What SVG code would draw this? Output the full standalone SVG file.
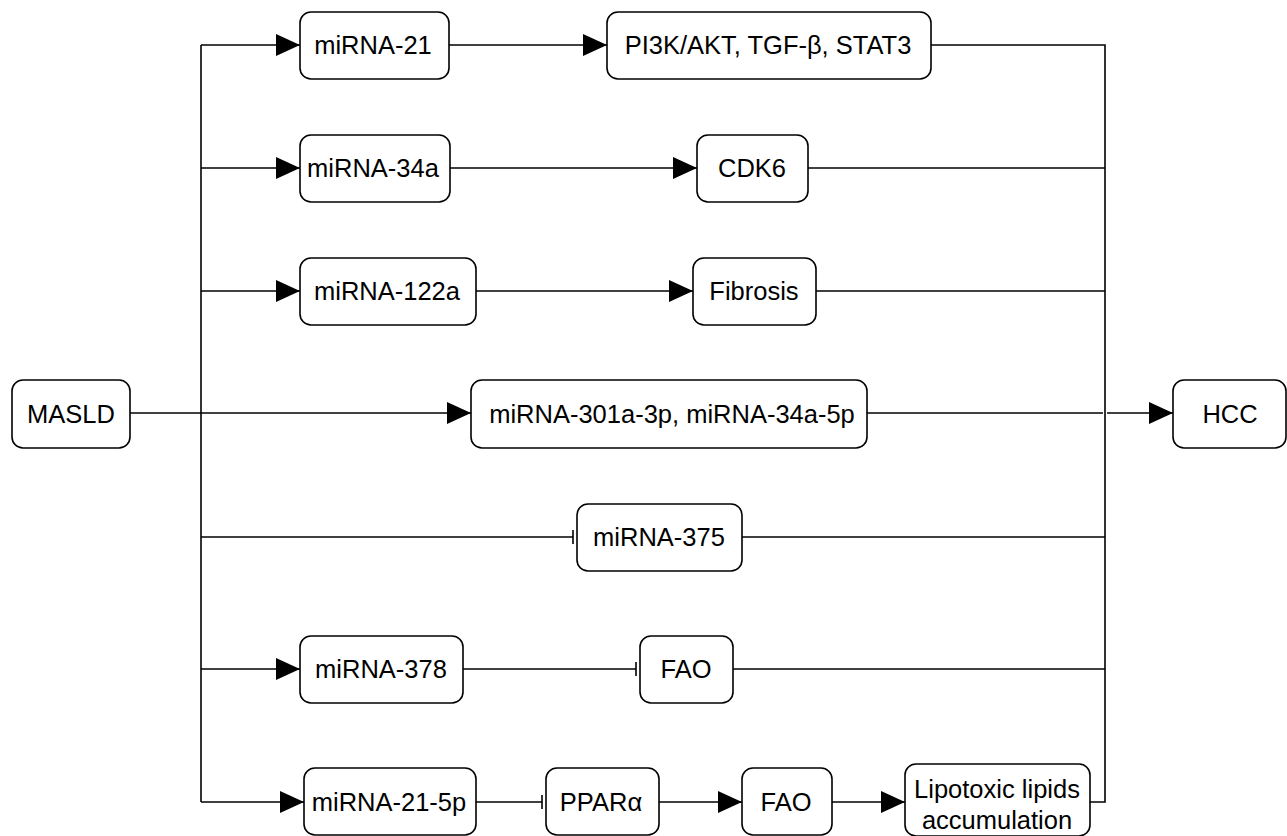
<svg xmlns="http://www.w3.org/2000/svg" width="1287" height="836" viewBox="0 0 1287 836">
<style>
.box{fill:#fff;stroke:#000;stroke-width:1.6}
.t{font-family:"Liberation Sans",Arial,sans-serif;font-size:25.5px;fill:#000;text-anchor:middle;dominant-baseline:central}
.c{fill:none;stroke:#000;stroke-width:1.6}
</style>
<defs>
<marker id="arr" markerUnits="userSpaceOnUse" markerWidth="26" markerHeight="22" refX="24" refY="11" orient="auto"><path d="M0,0 L24,11 L0,22 Z" fill="#000"/></marker>
<marker id="tee" markerUnits="userSpaceOnUse" markerWidth="4" markerHeight="16" refX="2" refY="8" orient="auto"><path d="M2,1 L2,15" stroke="#000" stroke-width="1.6"/></marker>
</defs>
<g id="connectors">
<path class="c" d="M130,413 H471" marker-end="url(#arr)"/>
<path class="c" d="M201,45 V802"/>
<path class="c" d="M201,45 H300" marker-end="url(#arr)"/>
<path class="c" d="M201,168 H300" marker-end="url(#arr)"/>
<path class="c" d="M201,291 H300" marker-end="url(#arr)"/>
<path class="c" d="M201,537 H573" marker-end="url(#tee)"/>
<path class="c" d="M201,669 H300" marker-end="url(#arr)"/>
<path class="c" d="M201,802 H304" marker-end="url(#arr)"/>
<path class="c" d="M449,45 H607" marker-end="url(#arr)"/>
<path class="c" d="M450,168 H697" marker-end="url(#arr)"/>
<path class="c" d="M476,291 H693" marker-end="url(#arr)"/>
<path class="c" d="M463,669 H636" marker-end="url(#tee)"/>
<path class="c" d="M476,802 H542" marker-end="url(#tee)"/>
<path class="c" d="M659,802 H742" marker-end="url(#arr)"/>
<path class="c" d="M832,802 H905" marker-end="url(#arr)"/>
<path class="c" d="M931,45 H1105 V802 H1090"/>
<path class="c" d="M808,168 H1105"/>
<path class="c" d="M816,291 H1105"/>
<path class="c" d="M867,413 H1103"/>
<path class="c" d="M1107,413 H1173" marker-end="url(#arr)"/>
<path class="c" d="M742,537 H1105"/>
<path class="c" d="M733,669 H1105"/>
</g>
<g id="n-masld"><rect class="box" x="12" y="380" width="118" height="68" rx="11"/><text class="t" x="71" y="414">MASLD</text></g>
<g id="n-hcc"><rect class="box" x="1173" y="380" width="113" height="68" rx="11"/><text class="t" x="1230" y="414">HCC</text></g>
<g id="n-mir21"><rect class="box" x="300" y="12" width="149" height="67" rx="11"/><text class="t" x="373" y="45">miRNA-21</text></g>
<g id="n-pi3k"><rect class="box" x="607" y="12" width="324" height="67" rx="11"/><text class="t" x="768" y="45">PI3K/AKT, TGF-β, STAT3</text></g>
<g id="n-mir34a"><rect class="box" x="300" y="135" width="150" height="67" rx="11"/><text class="t" x="373" y="168">miRNA-34a</text></g>
<g id="n-cdk6"><rect class="box" x="697" y="135" width="111" height="67" rx="11"/><text class="t" x="752" y="168">CDK6</text></g>
<g id="n-mir122a"><rect class="box" x="300" y="258" width="176" height="67" rx="11"/><text class="t" x="387" y="291">miRNA-122a</text></g>
<g id="n-fibrosis"><rect class="box" x="693" y="258" width="123" height="67" rx="11"/><text class="t" x="754" y="291">Fibrosis</text></g>
<g id="n-mir301"><rect class="box" x="471" y="380" width="396" height="68" rx="11"/><text class="t" x="672" y="414">miRNA-301a-3p, miRNA-34a-5p</text></g>
<g id="n-mir375"><rect class="box" x="577" y="504" width="165" height="67" rx="11"/><text class="t" x="659" y="537">miRNA-375</text></g>
<g id="n-mir378"><rect class="box" x="300" y="636" width="163" height="67" rx="11"/><text class="t" x="381" y="669">miRNA-378</text></g>
<g id="n-fao1"><rect class="box" x="640" y="636" width="93" height="67" rx="11"/><text class="t" x="686" y="669">FAO</text></g>
<g id="n-mir215p"><rect class="box" x="304" y="768" width="172" height="67" rx="11"/><text class="t" x="389" y="802">miRNA-21-5p</text></g>
<g id="n-ppara"><rect class="box" x="546" y="768" width="113" height="67" rx="11"/><text class="t" x="601" y="802">PPARα</text></g>
<g id="n-fao2"><rect class="box" x="742" y="768" width="90" height="67" rx="11"/><text class="t" x="786" y="802">FAO</text></g>
<g id="n-lipo"><rect class="box" x="905" y="764" width="185" height="72" rx="11"/><text class="t" x="997" y="789">Lipotoxic lipids</text><text class="t" x="997" y="820">accumulation</text></g>
</svg>
